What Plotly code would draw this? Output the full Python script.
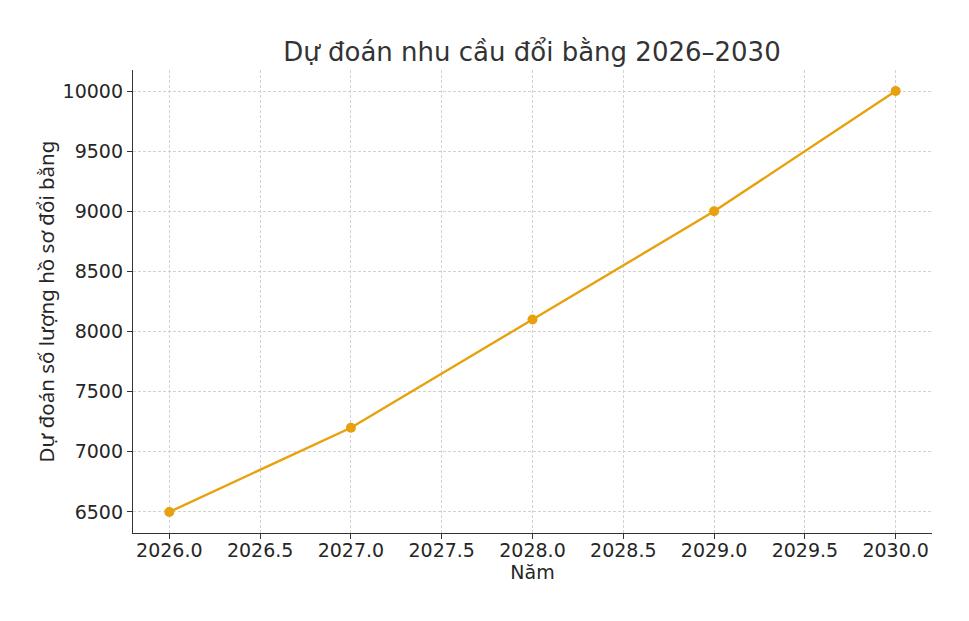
"""Forecast of degree-conversion demand, 2026-2030."""

import plotly.graph_objects as go

years = [2026, 2027, 2028, 2029, 2030]
forecast = [6500, 7200, 8100, 9000, 10000]

line_color = "#E8A10D"
font_family = "DejaVu Sans, Noto Sans, sans-serif"

# the page puts the plot 8px in from the top-left corner
width, height = 961, 613

fig = go.Figure()
fig.add_trace(
    go.Scatter(
        x=years,
        y=forecast,
        mode="lines+markers",
        line={"color": line_color, "width": 2.4},
        marker={"color": line_color, "size": 10},
        showlegend=False,
    )
)

axis_common = dict(
    showline=True,
    linecolor="#333333",
    linewidth=1.3,
    ticks="outside",
    ticklen=5,
    tickcolor="#333333",
    showgrid=True,
    gridcolor="#d2d2d2",
    griddash="3px,2px",
    gridwidth=1,
    zeroline=False,
    tickfont={"size": 19, "color": "#262626", "family": font_family},
    mirror=False,
)

fig.update_xaxes(
    range=[2025.8, 2030.2],
    dtick=0.5,
    tick0=2026,
    tickformat=".1f",
    ticklabelstandoff=-5,
    title={"text": "Năm", "font": {"size": 19, "color": "#262626"}, "standoff": 0},
    **axis_common,
)
fig.update_yaxes(
    range=[6325, 10175],
    dtick=500,
    tick0=6500,
    tickformat="d",
    title={
        "text": "Dự đoán số lượng hồ sơ đổi bằng",
        "font": {"size": 20.5, "color": "#262626", "family": "Noto Sans, DejaVu Sans"},
        "standoff": 2,
    },
    **axis_common,
)

fig.update_layout(
    title={
        "text": "Dự đoán nhu cầu đổi bằng 2026–2030",
        "x": (532 - 8) / width,
        "xanchor": "center",
        "y": 1 - (52 - 8) / height,
        "yanchor": "middle",
        "font": {"size": 26, "color": "#333333", "family": font_family},
    },
    width=width,
    height=height,
    margin={"l": 125, "r": 37, "t": 62, "b": 88},
    plot_bgcolor="white",
    paper_bgcolor="white",
    font={"family": font_family},
)

fig.write_html("out.html")
